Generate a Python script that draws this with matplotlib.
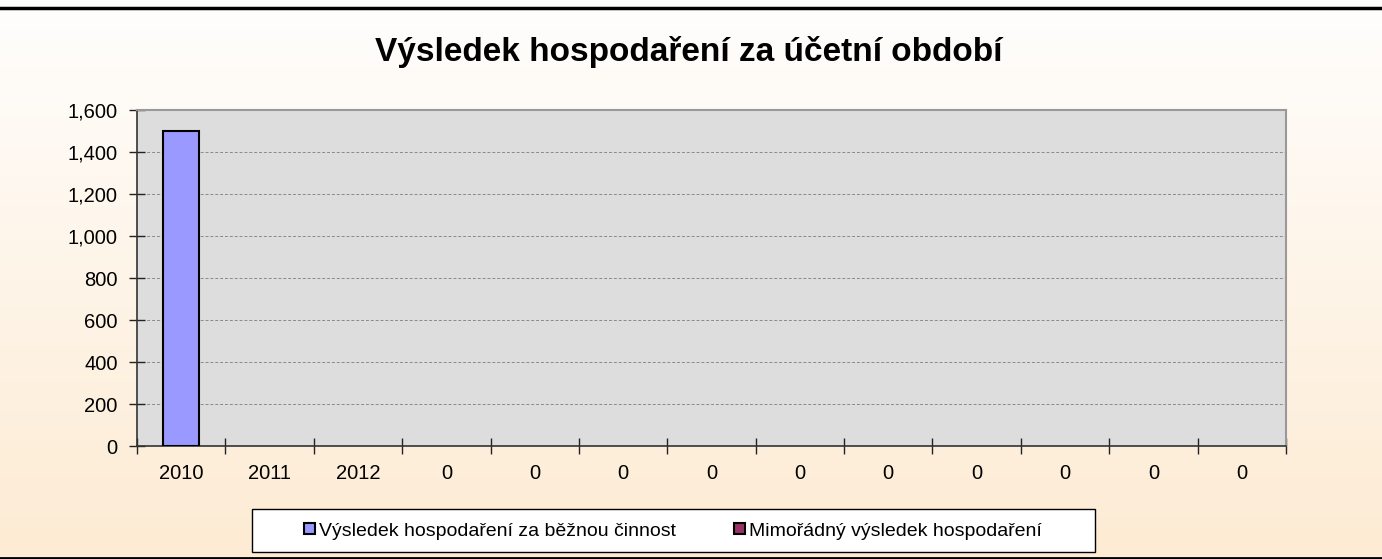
import numpy as np
import matplotlib.pyplot as plt
from matplotlib.colors import LinearSegmentedColormap
from matplotlib.patches import Patch, Rectangle

categories = ['2010', '2011', '2012', '0', '0', '0', '0', '0', '0', '0', '0', '0', '0']
bezna = [1500, 0, 0, 0, 0, 0, 0, 0, 0, 0, 0, 0, 0]
mimoradny = [0, 0, 0, 0, 0, 0, 0, 0, 0, 0, 0, 0, 0]

plt.rcParams['font.family'] = ['Liberation Sans', 'DejaVu Sans']

W, H = 1382, 559
fig = plt.figure(figsize=(W / 100, H / 100), dpi=100)

# gradient background
bg = fig.add_axes([0, 0, 1, 1], zorder=-10)
grad = np.linspace(0, 1, 256).reshape(-1, 1)
cmap = LinearSegmentedColormap.from_list('bg', ['#fffefd', '#fdebd3'])
bg.imshow(grad, aspect='auto', cmap=cmap, extent=[0, 1, 0, 1], origin='upper')
bg.set_xlim(0, 1)
bg.set_ylim(0, 1)
bg.axhline(1 - 8 / H, color='black', lw=2.5)
bg.axhline(1 / H, color='black', lw=2)
# legend box
bg.add_patch(Rectangle((252 / W, 1 - 552 / H), 843 / W, 43 / H,
                       facecolor='white', edgecolor='black', linewidth=1.0))
bg.axis('off')

left, right, top, bottom = 137, 1286, 110, 446
ax = fig.add_axes([left / W, 1 - bottom / H, (right - left) / W, (bottom - top) / H])
ax.set_facecolor('#dddddd')

x = np.arange(len(categories))
lw1 = [1.5 if v else 0 for v in bezna]
lw2 = [1.5 if v else 0 for v in mimoradny]
ax.bar(x, bezna, width=0.41, color='#9999ff', edgecolor='black', linewidth=lw1, zorder=3)
ax.bar(x + 0.41, mimoradny, width=0.41, color='#993366', edgecolor='black', linewidth=lw2, zorder=3)

ax.set_xlim(-0.5, len(categories) - 0.5)
ax.set_ylim(0, 1600)
ax.set_yticks(np.arange(0, 1601, 200))
ax.set_yticklabels([f'{v:,}' for v in range(0, 1601, 200)])
ax.yaxis.grid(True, linestyle=(0, (3, 2)), color='#8a8a8a', linewidth=0.7, zorder=1)

ax.set_xticks(np.arange(-0.5, len(categories), 1))
ax.set_xticklabels([])
ax.set_xticks(x, minor=True)
ax.set_xticklabels(categories, minor=True)
ax.tick_params(axis='x', which='major', direction='inout', length=12, width=1, color='#222222')
ax.tick_params(axis='x', which='minor', length=0, pad=13, labelsize=14.5)
ax.tick_params(axis='y', direction='inout', length=12, width=1, color='#222222', labelsize=14.5, pad=8)

for s in ['left', 'bottom']:
    ax.spines[s].set_color('#333333')
    ax.spines[s].set_linewidth(1.2)
for s in ['top', 'right']:
    ax.spines[s].set_color('#999999')
    ax.spines[s].set_linewidth(1.5)

fig.text(689 / W, 1 - 52 / H, 'Výsledek hospodaření za účetní období',
         ha='center', va='center', fontsize=24, fontweight='bold')

handles = [Patch(facecolor='#9999ff', edgecolor='black', linewidth=1.5),
           Patch(facecolor='#993366', edgecolor='black', linewidth=1.5)]
leg = fig.legend(handles, ['Výsledek hospodaření za běžnou činnost', 'Mimořádný výsledek hospodaření'],
                 loc='center', bbox_to_anchor=(673 / W, 1 - 531 / H), ncol=2, fontsize=14,
                 frameon=False, handlelength=0.55, handleheight=0.55,
                 handletextpad=0.2, columnspacing=3.0)

fig.savefig('out.png', dpi=100)
